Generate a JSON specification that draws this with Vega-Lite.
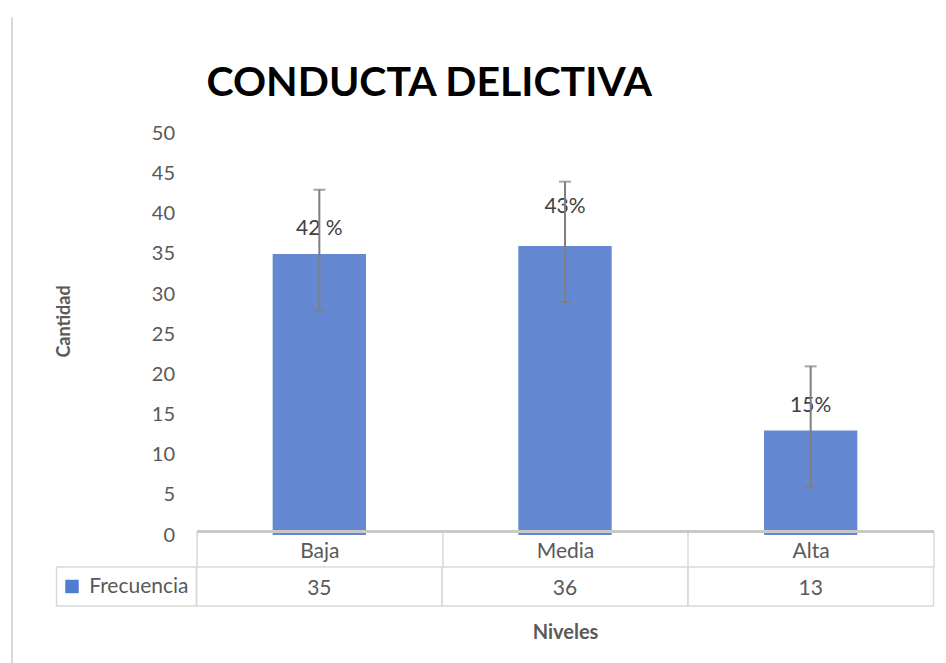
{
  "$schema": "https://vega.github.io/schema/vega-lite/v6.json",
  "background": "white",
  "padding": {"left": 10, "top": 16, "right": 5, "bottom": 0},
  "config": {"view": {"stroke": null}, "font": "Lato"},
  "datasets": {
    "niveles": [
      {"nivel": "Baja", "frecuencia": 35, "porcentaje": "42 %", "error_min": 28, "error_max": 43},
      {"nivel": "Media", "frecuencia": 36, "porcentaje": "43%", "error_min": 29, "error_max": 44},
      {"nivel": "Alta", "frecuencia": 13, "porcentaje": "15%", "error_min": 6, "error_max": 21}
    ]
  },
  "bounds": "flush",
  "spacing": 44.5,
  "hconcat": [
    {
      "width": 1, "height": 660,
      "data": {"values": []},
      "mark": "rule",
      "encoding": {},
      "view": {"stroke": "#d9d9d9", "strokeWidth": 1}
    },
    {
      "bounds": "flush",
      "columns": 2,
      "spacing": {"row": 32, "column": 0},
      "concat": [
        {"width": 140, "height": 518, "data": {"values": []}, "mark": "rule", "encoding": {}},
        {
          "width": 737, "height": 518,
          "title": {"text": "CONDUCTA DELICTIVA", "anchor": "start", "frame": "group", "dx": 10, "dy": 92, "fontSize": 41, "fontWeight": "bold", "color": "#000000", "font": "Lato"},
          "data": {"name": "niveles"},
          "encoding": {
            "x": {"field": "nivel", "type": "nominal", "sort": ["Baja", "Media", "Alta"], "scale": {"paddingInner": 0, "paddingOuter": 0},
              "axis": {"orient": "bottom", "offset": -4, "zindex": 1, "domain": true, "domainColor": "#c9c9c9", "domainWidth": 3, "ticks": true, "tickBand": "extent", "tickSize": 36, "tickColor": "#d9d9d9", "tickWidth": 1.5, "labels": true, "labelAngle": 0, "labelFontSize": 21, "labelColor": "#595959", "labelBaseline": "middle", "labelPadding": -16, "grid": false, "title": null}}
          },
          "layer": [
            {
              "mark": {"type": "bar", "color": "#6489d2", "width": {"band": 0.38}},
              "encoding": {
                "y": {"field": "frecuencia", "type": "quantitative", "scale": {"domain": [0, 64.5], "nice": false},
                  "axis": {"values": [0, 5, 10, 15, 20, 25, 30, 35, 40, 45, 50], "title": "Cantidad", "domain": false, "ticks": false, "grid": false, "labelFontSize": 20, "labelColor": "#595959", "labelPadding": 22, "titleFontSize": 18, "titleFontWeight": "bold", "titleColor": "#595959", "titleY": 304, "titlePadding": 78}}
              }
            },
            {
              "transform": [{"filter": "datum.nivel !== 'Media'"}],
              "mark": {"type": "text", "fontSize": 21, "color": "#404040", "baseline": "middle", "dy": -25},
              "encoding": {
                "y": {"field": "frecuencia", "type": "quantitative"},
                "text": {"field": "porcentaje"}
              }
            },
            {
              "transform": [{"filter": "datum.nivel === 'Media'"}],
              "mark": {"type": "text", "fontSize": 21, "color": "#404040", "baseline": "middle", "dy": -39},
              "encoding": {
                "y": {"field": "frecuencia", "type": "quantitative"},
                "text": {"field": "porcentaje"}
              }
            },
            {
              "mark": {"type": "rule", "color": "#7f7f7f", "strokeWidth": 2},
              "encoding": {
                "y": {"field": "error_min", "type": "quantitative"},
                "y2": {"field": "error_max"}
              }
            },
            {
              "mark": {"type": "tick", "color": "#7f7f7f", "thickness": 2, "size": 12},
              "encoding": {"y": {"field": "error_min", "type": "quantitative"}}
            },
            {
              "mark": {"type": "tick", "color": "#7f7f7f", "thickness": 2, "size": 12},
              "encoding": {"y": {"field": "error_max", "type": "quantitative"}}
            }
          ]
        },
        {
          "width": 140, "height": 39,
          "data": {"values": [{"serie": "Frecuencia"}]},
          "encoding": {"x": {"field": "serie", "type": "nominal", "axis": null, "scale": {"paddingInner": 0, "paddingOuter": 0}}},
          "layer": [
            {"mark": {"type": "rect", "fill": "white", "fillOpacity": 0, "stroke": "#d9d9d9", "strokeWidth": 1.5}},
            {"mark": {"type": "point", "shape": "square", "filled": true, "size": 180, "color": "#4f7bd0", "opacity": 1, "xOffset": -54.5}},
            {"mark": {"type": "text", "align": "right", "baseline": "middle", "xOffset": 62, "fontSize": 21, "color": "#595959"}, "encoding": {"text": {"field": "serie"}}}
          ]
        },
        {
          "width": 737, "height": 39,
          "data": {"name": "niveles"},
          "encoding": {
            "x": {"field": "nivel", "type": "nominal", "sort": ["Baja", "Media", "Alta"], "scale": {"paddingInner": 0, "paddingOuter": 0},
              "axis": {"orient": "bottom", "domain": false, "labels": false, "ticks": false, "grid": false, "title": "Niveles", "titleFontSize": 20, "titleFontWeight": "bold", "titleColor": "#595959", "titlePadding": 16}}
          },
          "layer": [
            {"mark": {"type": "rect", "fill": "white", "fillOpacity": 0, "stroke": "#d9d9d9", "strokeWidth": 1.5}},
            {"mark": {"type": "text", "fontSize": 21, "color": "#595959", "baseline": "middle", "dy": 2}, "encoding": {"text": {"field": "frecuencia"}}}
          ]
        }
      ]
    }
  ]
}
